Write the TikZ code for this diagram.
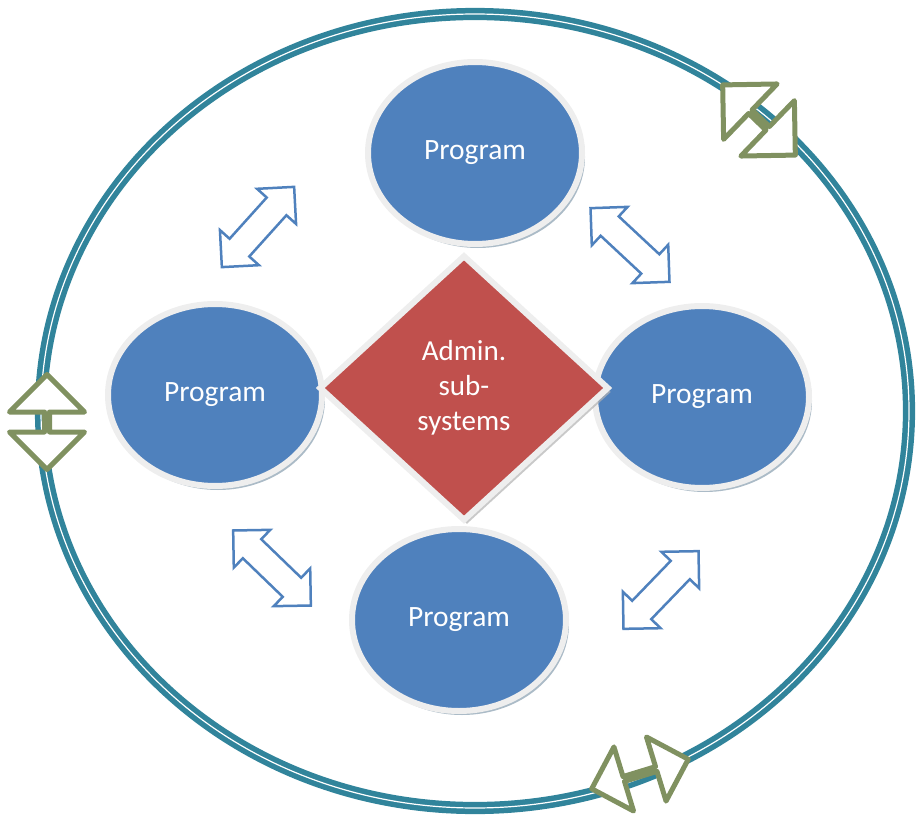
\documentclass[tikz,border=0pt]{standalone}
\usepackage{fontspec}
\setmainfont{Carlito}
\usepackage{tikz}
\usetikzlibrary{shapes,shadows,positioning}
\definecolor{pgblue}{RGB}{79,129,189}
\definecolor{pgred}{RGB}{192,80,77}
\definecolor{pgteal}{RGB}{49,132,155}
\definecolor{pgolive}{RGB}{128,145,96}
\definecolor{pgrim}{RGB}{238,238,238}
\definecolor{pgshade}{RGB}{150,170,185}
\tikzstyle{program} = [ellipse, minimum width=214pt, minimum height=182pt, inner sep=0pt, fill=pgblue, draw=pgrim, line width=6pt, text=white, font=\fontsize{29.5}{35}\selectfont, drop shadow={shadow xshift=3pt, shadow yshift=-4pt, fill=pgshade, opacity=0.8}]
\tikzstyle{admin} = [diamond, minimum width=290pt, minimum height=266pt, inner sep=0pt, fill=pgred, draw=pgrim, line width=6pt, text=white, align=center, font=\fontsize{29}{35}\selectfont, drop shadow={shadow xshift=3pt, shadow yshift=-4pt, fill=gray!60, opacity=0.7}]
\tikzstyle{linkarrow} = [double arrow, draw=pgblue, fill=white, line width=2.5pt, minimum height=108pt, inner xsep=0pt, inner ysep=12pt, double arrow head extend=13pt, double arrow tip angle=90]
\tikzstyle{ringarrow} = [double arrow, draw=pgolive, fill=white, line width=5pt, line join=round, inner xsep=0pt, inner ysep=0pt, double arrow tip angle=90]

\begin{document}
\begin{tikzpicture}[x=1pt, y=-1pt]
\useasboundingbox (0,0) rectangle (918,829);

% Outer ring
\draw[pgshade, line width=2pt] (477,415) ellipse [x radius=434, y radius=397];
\draw[pgteal, line width=5.5pt, double=white, double distance=1.2pt] (475,411) ellipse [x radius=434, y radius=397];

% Arrows on the ring
\node[ringarrow, minimum height=101pt, double arrow head extend=36pt, rotate=-44] (ringne) at (759,120) {};
\node[ringarrow, minimum height=95pt, double arrow head extend=35pt, rotate=90] (ringw) at (47,422) {};
\node[ringarrow, minimum height=101pt, double arrow head extend=31pt, rotate=17] (rings) at (640,774) {};

% Arrows between programs
\node[linkarrow, rotate=48] (linknw) at (258,227) {};
\node[linkarrow, rotate=-43] (linkne) at (630,245) {};
\node[linkarrow, rotate=-44] (linksw) at (272,568) {};
\node[linkarrow, rotate=46] (linkse) at (661,590) {};

% Programs
\node[program] (top) at (475,153) {Program};
\node[program] (left) at (215,395) {Program};
\node[program] (right) at (702,397) {Program};
\node[program] (bottom) at (459,620) {Program};

% Center
\node[admin] (admin) at (464,388) {Admin.\\sub-\\systems};
\end{tikzpicture}
\end{document}
